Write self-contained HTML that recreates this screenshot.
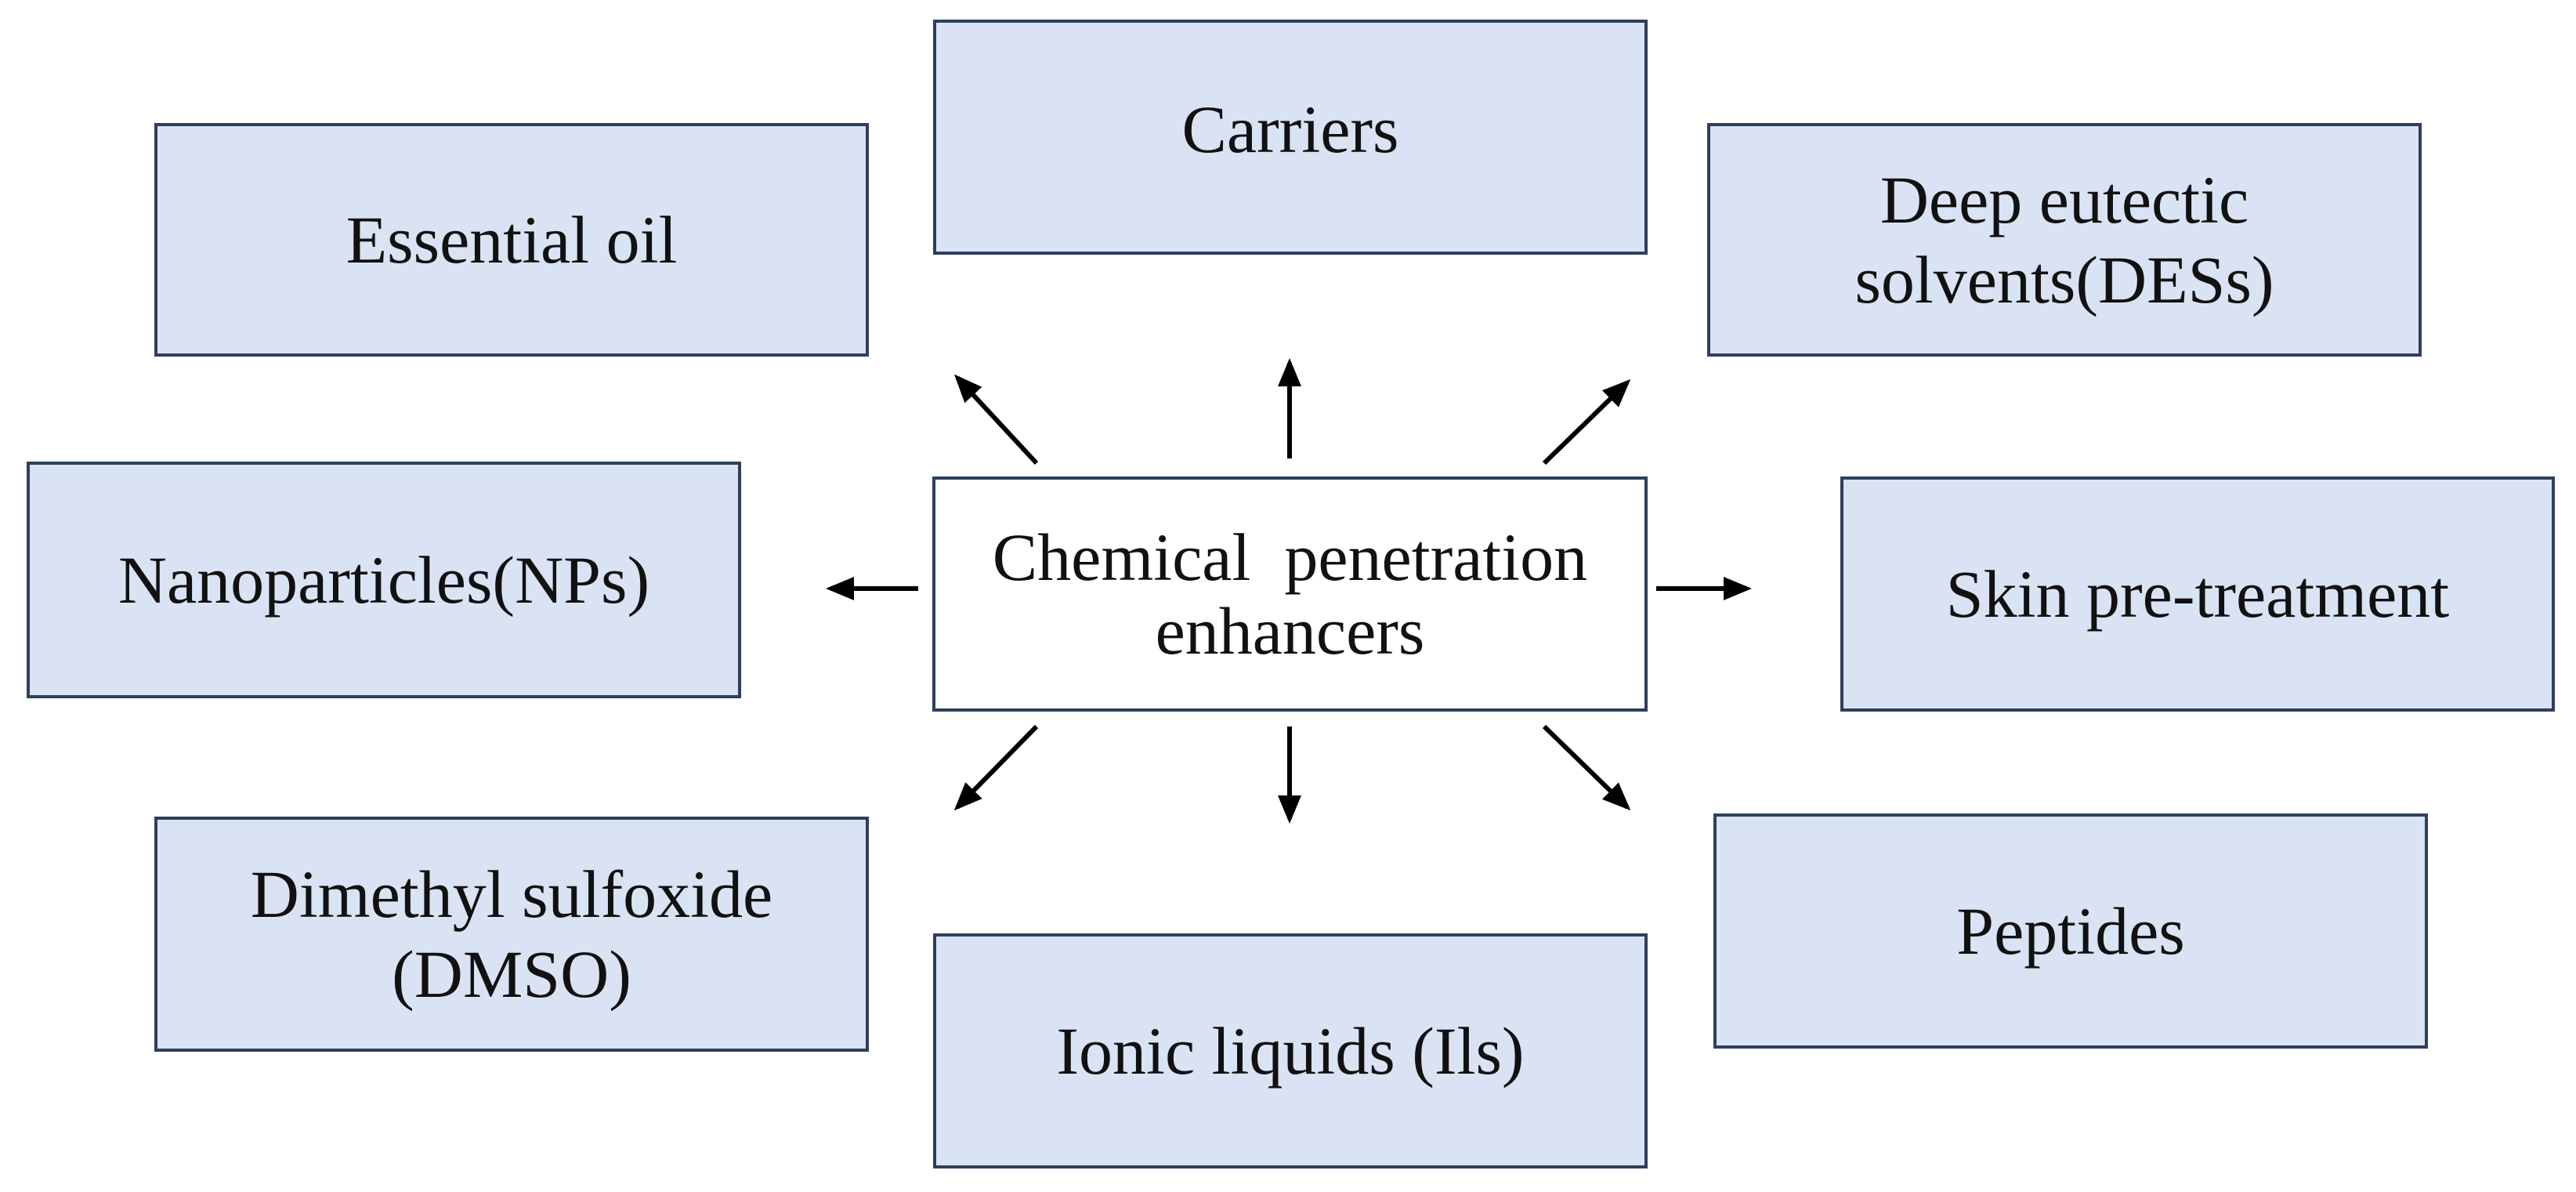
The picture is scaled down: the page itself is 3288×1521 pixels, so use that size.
<!DOCTYPE html>
<html><head><style>
body{margin:0;width:3288px;height:1521px;background:#fff;position:relative;overflow:hidden;font-family:"Liberation Serif",serif;}
.b{position:absolute;box-sizing:border-box;border:4px solid #2e3f5c;background:#dae3f3;display:flex;align-items:center;justify-content:center;text-align:center;font-size:86px;line-height:102px;color:#111;}
svg{position:absolute;left:0;top:0;}
</style></head><body>
<div class="b" style="left:197px;top:157px;width:912px;height:298px;">Essential oil</div>
<div class="b" style="left:1191px;top:25px;width:912px;height:300px;padding-bottom:20px;">Carriers</div>
<div class="b" style="left:2179px;top:157px;width:912px;height:298px;">Deep eutectic<br>solvents(DESs)</div>
<div class="b" style="left:34px;top:589px;width:912px;height:302px;">Nanoparticles(NPs)</div>
<div class="b" style="left:1190px;top:608px;width:913px;height:300px;background:#fff;line-height:94px;">Chemical&nbsp; penetration<br>enhancers</div>
<div class="b" style="left:2349px;top:608px;width:912px;height:300px;">Skin pre-treatment</div>
<div class="b" style="left:197px;top:1042px;width:912px;height:300px;">Dimethyl sulfoxide<br>(DMSO)</div>
<div class="b" style="left:1191px;top:1191px;width:912px;height:300px;">Ionic liquids (Ils)</div>
<div class="b" style="left:2187px;top:1038px;width:912px;height:300px;">Peptides</div>
<svg width="3288" height="1521">
<defs><marker id="a" markerWidth="6" markerHeight="6" refX="5" refY="3" orient="auto" markerUnits="strokeWidth"><path d="M0,0.5 L6,3 L0,5.5 Z" fill="#000"/></marker></defs>
<g stroke="#000" stroke-width="6" marker-end="url(#a)">
<line x1="1323" y1="591" x2="1222" y2="482"/>
<line x1="1646" y1="585" x2="1646" y2="463"/>
<line x1="1971" y1="591" x2="2077" y2="488"/>
<line x1="1172" y1="751" x2="1060" y2="751"/>
<line x1="2114" y1="751" x2="2230" y2="751"/>
<line x1="1323" y1="927" x2="1222" y2="1030"/>
<line x1="1646" y1="927" x2="1646" y2="1045"/>
<line x1="1971" y1="927" x2="2077" y2="1030"/>
</g></svg>
</body></html>
